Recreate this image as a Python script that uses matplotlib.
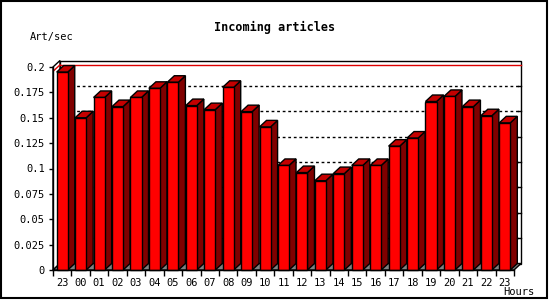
import numpy as np
import matplotlib
matplotlib.use("Agg")
import matplotlib.pyplot as plt
from matplotlib.patches import Polygon, Rectangle

hours = ["23", "00", "01", "02", "03", "04", "05", "06", "07", "08", "09", "10", "11",
         "12", "13", "14", "15", "16", "17", "18", "19", "20", "21", "22", "23"]
rates = [0.195, 0.150, 0.170, 0.161, 0.170, 0.179, 0.185, 0.162, 0.158, 0.180, 0.156, 0.141, 0.103,
         0.096, 0.088, 0.095, 0.103, 0.103, 0.122, 0.130, 0.166, 0.171, 0.161, 0.152, 0.145]
yticks = [0, 0.025, 0.05, 0.075, 0.1, 0.125, 0.15, 0.175, 0.2]
ytick_labels = ["0", "0.025", "0.05", "0.075", "0.1", "0.125", "0.15", "0.175", "0.2"]

plt.rcParams["font.family"] = "DejaVu Sans Mono"

W, H = 550, 300
fig = plt.figure(figsize=(5.5, 3), dpi=100)
fig.patch.set_facecolor("white")
# axes box in pixels: left 53, right 514, bottom 270, top 67
ax = fig.add_axes([53 / W, 1 - 270 / H, 461 / W, 203 / H])
n = len(rates)
ax.set_xlim(-0.5, n - 0.5)
ax.set_ylim(0, 0.2)
ax.set_facecolor("none")

# 3d depth in data units (about 7px right, 6.5px up)
dx = 7 / 461 * n
dy = 6.5 / 203 * 0.2
x0, x1 = -0.5, n - 0.5
top = 0.2

# back wall
ax.add_patch(Polygon([(x0 + dx, dy), (x1 + dx, dy), (x1 + dx, top + dy), (x0 + dx, top + dy)],
                     closed=True, fc="white", ec="black", lw=1, clip_on=False, zorder=1))
# left side wall
ax.add_patch(Polygon([(x0, 0), (x0 + dx, dy), (x0 + dx, top + dy), (x0, top)],
                     closed=True, fc="white", ec="black", lw=1, clip_on=False, zorder=1))

# grid on back wall
for t in yticks[1:-1]:
    ax.plot([x0 + dx, x1 + dx], [t + dy, t + dy], color="black", lw=1,
            ls=(0, (2, 2)), clip_on=False, zorder=2)
red_y = top + dy * 0.33
ax.plot([x0 + dx, x1 + dx], [red_y, red_y], color="#dd0000", lw=1, clip_on=False, zorder=2)
ax.plot([x0 + dx * 0.1, x0 + dx], [red_y - dy * 0.9, red_y], color="#dd0000", lw=1,
        clip_on=False, zorder=2)

# ticks on the right edge of the back wall
tl = 3 / 461 * n
for t in yticks[1:-1]:
    ax.plot([x1 + dx - tl, x1 + dx], [t + dy, t + dy], color="black", lw=1,
            clip_on=False, zorder=2)

# floor
ax.add_patch(Polygon([(x0, 0), (x1, 0), (x1 + dx, dy), (x0 + dx, dy)],
                     closed=True, fc="#808080", ec="black", lw=1, clip_on=False, zorder=3))

# bars
xs = np.arange(n)
bw = 0.6
ax.bar(xs, rates, width=bw, color="#ff0000", edgecolor="black", lw=1, zorder=6, clip_on=False)
for x, v in zip(xs, rates):
    l, r = x - bw / 2, x + bw / 2
    ax.add_patch(Polygon([(r, 0), (r + dx, dy), (r + dx, v + dy), (r, v)], closed=True,
                         fc="#800000", ec="black", lw=1, clip_on=False, zorder=5))
    ax.add_patch(Polygon([(l, v), (l + dx, v + dy), (r + dx, v + dy), (r, v)], closed=True,
                         fc="#c40000", ec="black", lw=1, clip_on=False, zorder=5))

# axes
for s in ["top", "right"]:
    ax.spines[s].set_visible(False)
for s in ["left", "bottom"]:
    ax.spines[s].set_linewidth(1)
    ax.spines[s].set_zorder(7)
ax.set_yticks(yticks)
ax.set_yticklabels(ytick_labels)
ax.tick_params(axis="y", direction="out", length=3, width=1, labelsize=7.5, pad=3)
ax.set_xticks(np.arange(-0.5, n, 1))
ax.set_xticklabels([])
ax.tick_params(axis="x", which="major", direction="out", length=4, width=1)
ax.set_xticks(xs, minor=True)
ax.set_xticklabels(hours, minor=True)
ax.tick_params(axis="x", which="minor", length=0, labelsize=7.5, pad=6)

fig.text(275 / W, 1 - 27 / H, "Incoming articles", ha="center", va="center",
         fontsize=8.5, fontweight="bold")
fig.text(30 / W, 1 - 37 / H, "Art/sec", ha="left", va="center", fontsize=7.5)
fig.text(534 / W, 1 - 292 / H, "Hours", ha="right", va="center", fontsize=7.5)

fig.patches.append(Rectangle((1 / W, 2 / H), 546 / W, 297 / H, transform=fig.transFigure,
                             fill=False, ec="black", lw=1.5))

fig.savefig("out.png", dpi=100)
